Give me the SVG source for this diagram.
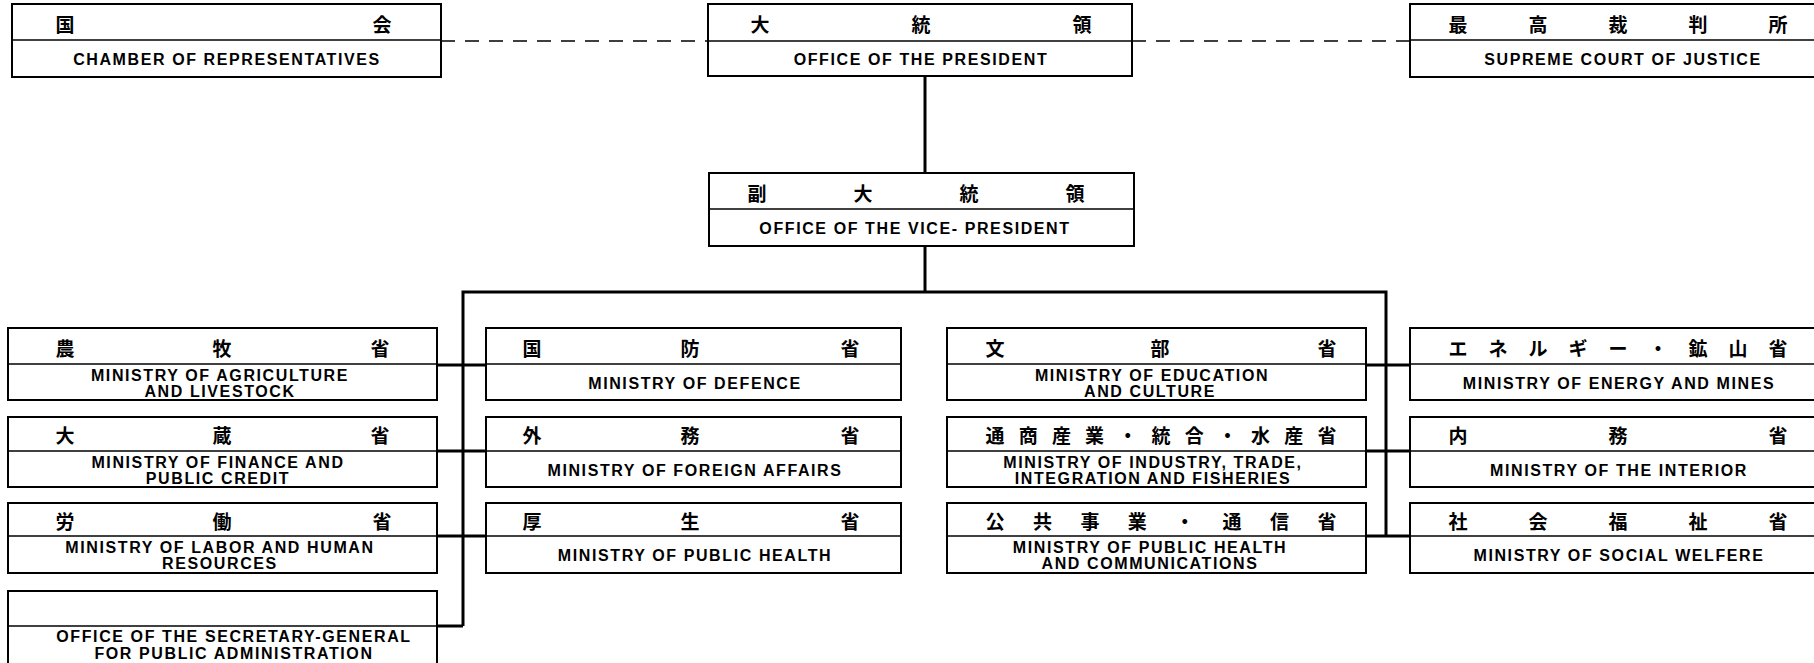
<svg xmlns="http://www.w3.org/2000/svg" width="1814" height="663" viewBox="0 0 1814 663">
<style>
.box{fill:#fff;stroke:#000;stroke-width:2}
.div{stroke:#000;stroke-width:1.6}
.jp{font-family:"Noto Sans CJK JP","Noto Sans CJK SC",sans-serif;font-weight:bold;font-size:19px;text-anchor:middle;dominant-baseline:central;fill:#000}
.en{font-family:"Liberation Sans",Arial,sans-serif;font-weight:bold;font-size:16px;letter-spacing:1.6px;text-anchor:middle;fill:#000}
.conn{stroke:#000;stroke-width:3;fill:none}
.dash{stroke:#000;stroke-width:1.6;stroke-dasharray:14 10;fill:none}
</style>
<rect width="1814" height="663" fill="#fff"/>
<g id="connectors">
<line class="dash" x1="441" y1="41" x2="708" y2="41"/>
<line class="dash" x1="1132" y1="41" x2="1410" y2="41"/>
<line class="conn" x1="925" y1="76" x2="925" y2="173"/>
<line class="conn" x1="925" y1="246" x2="925" y2="292"/>
<polyline class="conn" points="463,626 463,292 1386,292 1386,536"/>
<line class="conn" x1="437" y1="365" x2="486" y2="365"/>
<line class="conn" x1="437" y1="451" x2="486" y2="451"/>
<line class="conn" x1="437" y1="536" x2="486" y2="536"/>
<line class="conn" x1="437" y1="626" x2="463" y2="626"/>
<line class="conn" x1="1366" y1="365" x2="1410" y2="365"/>
<line class="conn" x1="1366" y1="451" x2="1410" y2="451"/>
<line class="conn" x1="1366" y1="536" x2="1410" y2="536"/>
</g>
<g id="chamber">
<rect class="box" x="12" y="4" width="429" height="73"/><line class="div" x1="12" y1="40" x2="441" y2="40"/>
<text class="jp" x="65" y="23">国</text><text class="jp" x="382" y="23">会</text>
<text class="en" x="227" y="65">CHAMBER OF REPRESENTATIVES</text>
</g>
<g id="president">
<rect class="box" x="708" y="4" width="424" height="72"/><line class="div" x1="708" y1="41" x2="1132" y2="41"/>
<text class="jp" x="760" y="23">大</text><text class="jp" x="921" y="23">統</text><text class="jp" x="1082" y="23">領</text>
<text class="en" x="921" y="65">OFFICE OF THE PRESIDENT</text>
</g>
<g id="supreme">
<rect class="box" x="1410" y="4" width="430" height="73"/><line class="div" x1="1410" y1="40" x2="1814" y2="40"/>
<text class="jp" x="1458" y="23">最</text><text class="jp" x="1538" y="23">高</text><text class="jp" x="1618" y="23">裁</text><text class="jp" x="1698" y="23">判</text><text class="jp" x="1778" y="23">所</text>
<text class="en" x="1623" y="65">SUPREME COURT OF JUSTICE</text>
</g>
<g id="vice-president">
<rect class="box" x="709" y="173" width="425" height="73"/><line class="div" x1="709" y1="209" x2="1134" y2="209"/>
<text class="jp" x="757" y="192">副</text><text class="jp" x="863" y="192">大</text><text class="jp" x="969" y="192">統</text><text class="jp" x="1075" y="192">領</text>
<text class="en" x="915" y="234">OFFICE OF THE VICE- PRESIDENT</text>
</g>
<g id="agriculture">
<rect class="box" x="8" y="328" width="429" height="72"/><line class="div" x1="8" y1="364" x2="437" y2="364"/>
<text class="jp" x="65" y="347">農</text><text class="jp" x="222" y="347">牧</text><text class="jp" x="380" y="347">省</text>
<text class="en" x="220" y="381">MINISTRY OF AGRICULTURE</text><text class="en" x="220" y="397">AND LIVESTOCK</text>
</g>
<g id="finance">
<rect class="box" x="8" y="417" width="429" height="70"/><line class="div" x1="8" y1="451" x2="437" y2="451"/>
<text class="jp" x="65" y="434">大</text><text class="jp" x="222" y="434">蔵</text><text class="jp" x="380" y="434">省</text>
<text class="en" x="218" y="468">MINISTRY OF FINANCE AND</text><text class="en" x="218" y="484">PUBLIC CREDIT</text>
</g>
<g id="labor">
<rect class="box" x="8" y="503" width="429" height="70"/><line class="div" x1="8" y1="536" x2="437" y2="536"/>
<text class="jp" x="65" y="520">労</text><text class="jp" x="222" y="520">働</text><text class="jp" x="382" y="520">省</text>
<text class="en" x="220" y="553">MINISTRY OF LABOR AND HUMAN</text><text class="en" x="220" y="569">RESOURCES</text>
</g>
<g id="secretary-general">
<rect class="box" x="8" y="591" width="429" height="80"/><line class="div" x1="8" y1="626" x2="437" y2="626"/>
<text class="en" x="234" y="642">OFFICE OF THE SECRETARY-GENERAL</text><text class="en" x="234" y="659">FOR PUBLIC ADMINISTRATION</text>
</g>
<g id="defence">
<rect class="box" x="486" y="328" width="415" height="72"/><line class="div" x1="486" y1="364" x2="901" y2="364"/>
<text class="jp" x="532" y="347">国</text><text class="jp" x="690" y="347">防</text><text class="jp" x="850" y="347">省</text>
<text class="en" x="695" y="389">MINISTRY OF DEFENCE</text>
</g>
<g id="foreign-affairs">
<rect class="box" x="486" y="417" width="415" height="70"/><line class="div" x1="486" y1="451" x2="901" y2="451"/>
<text class="jp" x="532" y="434">外</text><text class="jp" x="690" y="434">務</text><text class="jp" x="850" y="434">省</text>
<text class="en" x="695" y="476">MINISTRY OF FOREIGN AFFAIRS</text>
</g>
<g id="public-health">
<rect class="box" x="486" y="503" width="415" height="70"/><line class="div" x1="486" y1="536" x2="901" y2="536"/>
<text class="jp" x="532" y="520">厚</text><text class="jp" x="690" y="520">生</text><text class="jp" x="850" y="520">省</text>
<text class="en" x="695" y="561">MINISTRY OF PUBLIC HEALTH</text>
</g>
<g id="education">
<rect class="box" x="947" y="328" width="419" height="72"/><line class="div" x1="947" y1="364" x2="1366" y2="364"/>
<text class="jp" x="995" y="347">文</text><text class="jp" x="1160" y="347">部</text><text class="jp" x="1327" y="347">省</text>
<text class="en" x="1152" y="381">MINISTRY OF EDUCATION</text><text class="en" x="1150" y="397">AND CULTURE</text>
</g>
<g id="industry">
<rect class="box" x="947" y="417" width="419" height="70"/><line class="div" x1="947" y1="451" x2="1366" y2="451"/>
<text class="jp" x="995" y="434">通</text><text class="jp" x="1028.2" y="434">商</text><text class="jp" x="1061.4" y="434">産</text><text class="jp" x="1094.6" y="434">業</text><text class="jp" x="1127.8" y="434">・</text><text class="jp" x="1161" y="434">統</text><text class="jp" x="1194.2" y="434">合</text><text class="jp" x="1227.4" y="434">・</text><text class="jp" x="1260.6" y="434">水</text><text class="jp" x="1293.8" y="434">産</text><text class="jp" x="1327" y="434">省</text>
<text class="en" x="1153" y="468">MINISTRY OF INDUSTRY, TRADE,</text><text class="en" x="1153" y="484">INTEGRATION AND FISHERIES</text>
</g>
<g id="public-works">
<rect class="box" x="947" y="503" width="419" height="70"/><line class="div" x1="947" y1="536" x2="1366" y2="536"/>
<text class="jp" x="995" y="520">公</text><text class="jp" x="1042.4" y="520">共</text><text class="jp" x="1089.9" y="520">事</text><text class="jp" x="1137.3" y="520">業</text><text class="jp" x="1184.7" y="520">・</text><text class="jp" x="1232.1" y="520">通</text><text class="jp" x="1279.6" y="520">信</text><text class="jp" x="1327" y="520">省</text>
<text class="en" x="1150" y="553">MINISTRY OF PUBLIC HEALTH</text><text class="en" x="1150" y="569">AND COMMUNICATIONS</text>
</g>
<g id="energy">
<rect class="box" x="1410" y="328" width="430" height="72"/><line class="div" x1="1410" y1="364" x2="1814" y2="364"/>
<text class="jp" x="1458" y="347">エ</text><text class="jp" x="1498" y="347">ネ</text><text class="jp" x="1538" y="347">ル</text><text class="jp" x="1578" y="347">ギ</text><text class="jp" x="1618" y="347">ー</text><text class="jp" x="1658" y="347">・</text><text class="jp" x="1698" y="347">鉱</text><text class="jp" x="1738" y="347">山</text><text class="jp" x="1778" y="347">省</text>
<text class="en" x="1619" y="389">MINISTRY OF ENERGY AND MINES</text>
</g>
<g id="interior">
<rect class="box" x="1410" y="417" width="430" height="70"/><line class="div" x1="1410" y1="451" x2="1814" y2="451"/>
<text class="jp" x="1458" y="434">内</text><text class="jp" x="1618" y="434">務</text><text class="jp" x="1778" y="434">省</text>
<text class="en" x="1619" y="476">MINISTRY OF THE INTERIOR</text>
</g>
<g id="social-welfare">
<rect class="box" x="1410" y="503" width="430" height="70"/><line class="div" x1="1410" y1="536" x2="1814" y2="536"/>
<text class="jp" x="1458" y="520">社</text><text class="jp" x="1538" y="520">会</text><text class="jp" x="1618" y="520">福</text><text class="jp" x="1698" y="520">祉</text><text class="jp" x="1778" y="520">省</text>
<text class="en" x="1619" y="561">MINISTRY OF SOCIAL WELFERE</text>
</g>
</svg>
